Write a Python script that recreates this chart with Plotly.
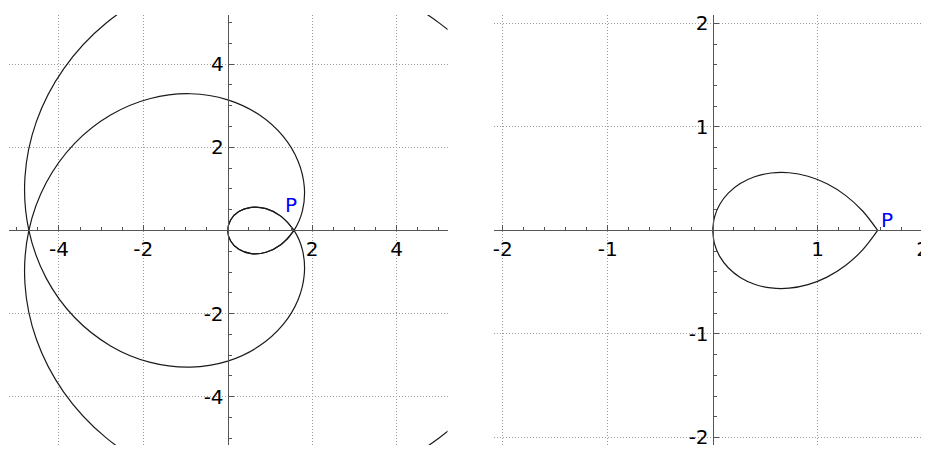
import plotly.graph_objects as go

# polar curve r = pi/2 - |theta| (15 deg steps)
# branch for theta >= 0
spiral_a_x = [1.5708, 1.2644, 0.9069, 0.5554, 0.2618, 0.0678, 0.0, 0.0678, 0.2618, 0.5554,
              0.9069, 1.2644, 1.5708, 1.7702, 1.8138, 1.6661, 1.3090, 0.7454, 0.0, -0.8809,
              -1.8326, -2.7768, -3.6276, -4.2989, -4.7124, -4.8047, -4.5345, -3.8875, -2.8798,
              -1.5585, 0.0, 1.6940, 3.4034, 4.9982, 6.3483, 7.3335, 7.8540]
spiral_a_y = [0.0, 0.3388, 0.5236, 0.5554, 0.4535, 0.2529, 0.0, -0.2529, -0.4535, -0.5554,
              -0.5236, -0.3388, 0.0, 0.4743, 1.0472, 1.6661, 2.2673, 2.7817, 3.1416, 3.2874,
              3.1742, 2.7768, 2.0944, 1.1519, 0.0, -1.2874, -2.6180, -3.8875, -4.9880,
              -5.8163, -6.2832, -6.3220, -5.8949, -4.9982, -3.6652, -1.9650, 0.0]
# branch for theta <= 0
spiral_b_x = [1.5708, 1.2644, 0.9069, 0.5554, 0.2618, 0.0678, 0.0, 0.0678, 0.2618, 0.5554,
              0.9069, 1.2644, 1.5708, 1.7702, 1.8138, 1.6661, 1.3090, 0.7454, 0.0, -0.8809,
              -1.8326, -2.7768, -3.6276, -4.2989, -4.7124, -4.8047, -4.5345, -3.8875, -2.8798,
              -1.5585, 0.0, 1.6940, 3.4034, 4.9982, 6.3483, 7.3335, 7.8540]
spiral_b_y = [0.0, -0.3388, -0.5236, -0.5554, -0.4535, -0.2529, 0.0, 0.2529, 0.4535, 0.5554,
              0.5236, 0.3388, 0.0, -0.4743, -1.0472, -1.6661, -2.2673, -2.7817, -3.1416, -3.2874,
              -3.1742, -2.7768, -2.0944, -1.1519, 0.0, 1.2874, 2.6180, 3.8875, 4.9880,
              5.8163, 6.2832, 6.3220, 5.8949, 4.9982, 3.6652, 1.9650, 0.0]

# teardrop, theta in [-pi/2, pi/2] (7.5 deg steps)
drop_x = [1.5708, 1.4276, 1.2644, 1.0884, 0.9069, 0.7270, 0.5554, 0.3984, 0.2618, 0.1503,
          0.0678, 0.0171, 0.0]
drop_upper_y = [0.0, 0.1879, 0.3388, 0.4508, 0.5236, 0.5578, 0.5554, 0.5193, 0.4535, 0.3628,
                0.2529, 0.1298, 0.0]
drop_lower_y = [0.0, -0.1879, -0.3388, -0.4508, -0.5236, -0.5578, -0.5554, -0.5193, -0.4535,
                -0.3628, -0.2529, -0.1298, 0.0]

left_ticks = [-4, -2, 2, 4]
left_labels = ['-4', '-2', '2', '4']
right_ticks = [-2, -1, 1, 2]
right_labels = ['-2', '-1', '1', '2']

P_left = (1.50, 0.60)
P_right = (1.66, 0.10)

# page body has an 8px margin, so the figure is a bit smaller than the window
W, H = 921, 441
line = dict(color='#1a1a1a', width=1.2, shape='spline')

fig = go.Figure()
fig.add_trace(go.Scatter(x=spiral_a_x, y=spiral_a_y, mode='lines', line=line, xaxis='x', yaxis='y'))
fig.add_trace(go.Scatter(x=spiral_b_x, y=spiral_b_y, mode='lines', line=line, xaxis='x', yaxis='y'))
fig.add_trace(go.Scatter(x=drop_x, y=drop_upper_y, mode='lines', line=line, xaxis='x2', yaxis='y2'))
fig.add_trace(go.Scatter(x=drop_x, y=drop_lower_y, mode='lines', line=line, xaxis='x2', yaxis='y2'))

font = dict(family='DejaVu Sans', size=20, color='black')


def ax(rng, dom, pos, ticks, labels, minor):
    return dict(range=rng, domain=dom, anchor='free', position=pos,
                tickmode='array', tickvals=ticks, ticktext=labels,
                ticklabeloverflow='allow',
                showline=True, linecolor='#555', linewidth=1.3,
                ticks='inside', ticklen=5, tickcolor='#555', tickwidth=1,
                minor=dict(ticks='inside', ticklen=3, dtick=minor, tick0=0,
                           tickcolor='#555', showgrid=False),
                showgrid=True, gridcolor='#999999', griddash='1px,2px', gridwidth=1,
                zeroline=False, tickfont=font, fixedrange=True)


ydom = [0, 1 - 4 / H]
xaxis_pos = (H - 223) / H

fig.update_layout(
    width=W, height=H,
    margin=dict(l=0, r=0, t=0, b=0),
    paper_bgcolor='white', plot_bgcolor='white',
    showlegend=False,
    xaxis=ax([-5.183, 5.207], [0, 439 / W], xaxis_pos, left_ticks, left_labels, 0.5),
    yaxis=ax([-5.160, 5.183], ydom, 219 / W, left_ticks, left_labels, 0.5),
    xaxis2=ax([-2.0856, 2.0599], [485.3 / W, 1], xaxis_pos, right_ticks, right_labels, 0.2),
    yaxis2=ax([-2.0732, 2.0827], ydom, 704.5 / W, right_ticks, right_labels, 0.2),
    annotations=[
        dict(x=P_left[0], y=P_left[1], xref='x', yref='y', text='P', showarrow=False,
             font=dict(family='DejaVu Sans', size=20, color='blue')),
        dict(x=P_right[0], y=P_right[1], xref='x2', yref='y2', text='P', showarrow=False,
             font=dict(family='DejaVu Sans', size=20, color='blue')),
    ],
)

fig.write_html("out.html")
